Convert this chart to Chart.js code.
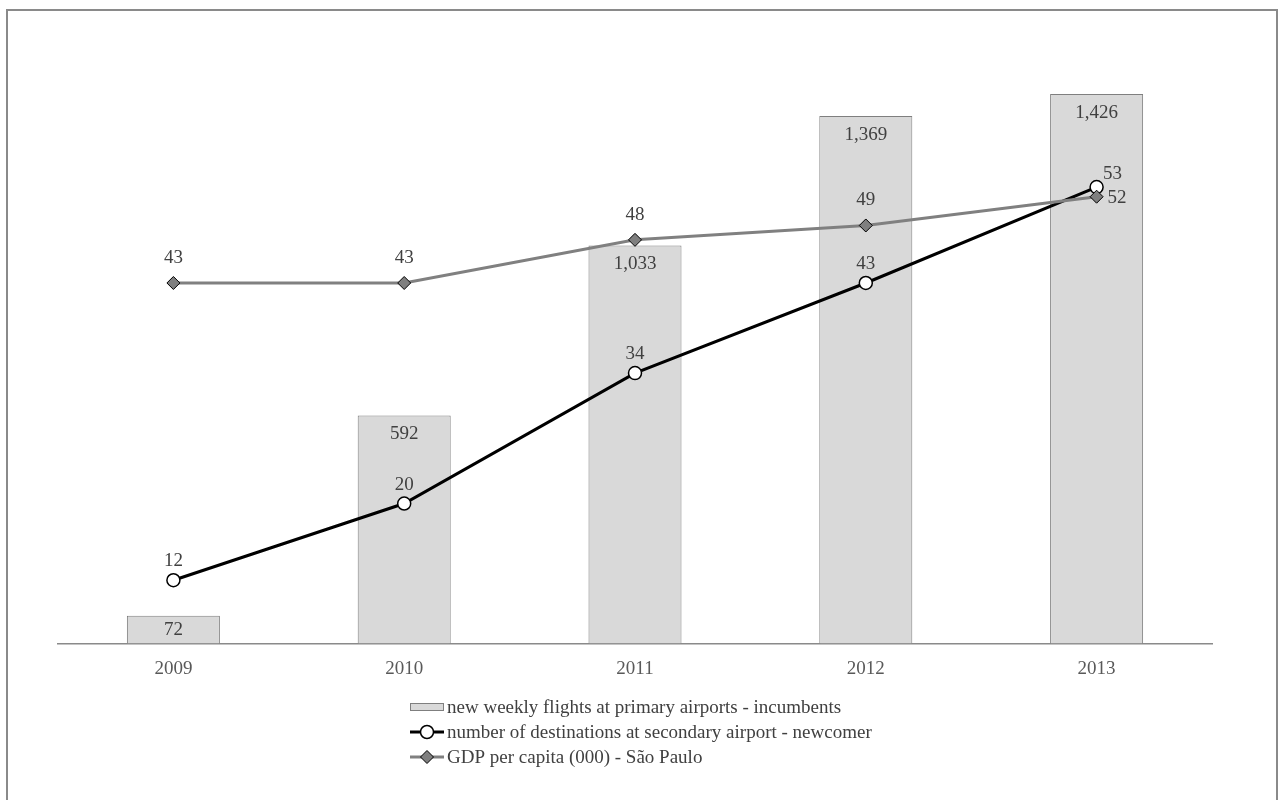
<!DOCTYPE html>
<html>
<head>
<meta charset="utf-8">
<title>Flights, destinations and GDP - São Paulo</title>
<script src="https://cdn.jsdelivr.net/npm/chart.js@4.4.1/dist/chart.umd.min.js"></script>
<style>
    html, body {
        margin: 0;
        padding: 0;
        background: #ffffff;
    }
    .chart-wrap {
        position: relative;
        width: 1279px;
        height: 800px;
    }
</style>
</head>
<body>
<div class="chart-wrap">
    <canvas id="mainChart" width="1279" height="800"></canvas>
</div>
<script>
const years = ['2009', '2010', '2011', '2012', '2013'];
const weeklyFlights = [72, 592, 1033, 1369, 1426];
const destinations = [12, 20, 33.6, 43, 53];
const gdpPerCapita = [43, 43, 47.5, 49, 52];

const seriesNames = [
    'new weekly flights at primary airports - incumbents',
    'number of destinations at secondary airport - newcomer',
    'GDP per capita (000) - São Paulo'
];

const FONT = '"Liberation Serif", "Times New Roman", serif';
const TEXT_COLOR = '#404040';

// outer frame like the spreadsheet chart border
const framePlugin = {
    id: 'frame',
    beforeDraw(chart) {
        const ctx = chart.ctx;
        ctx.save();
        ctx.fillStyle = '#ffffff';
        ctx.fillRect(0, 0, chart.width, chart.height);
        ctx.strokeStyle = '#8a8a8a';
        ctx.lineWidth = 2;
        ctx.strokeRect(7, 10, 1270, 810);
        ctx.restore();
    }
};

// value labels for bars and points
const valueLabels = {
    id: 'valueLabels',
    afterDatasetsDraw(chart) {
        const ctx = chart.ctx;
        ctx.save();
        ctx.font = '19px ' + FONT;
        ctx.fillStyle = TEXT_COLOR;
        ctx.textBaseline = 'middle';

        chart.data.datasets.forEach((ds, di) => {
            const meta = chart.getDatasetMeta(di);
            meta.data.forEach((el, i) => {
                const v = ds.data[i];
                const last = i === ds.data.length - 1;
                if (ds.type === 'bar') {
                    const text = v.toLocaleString('en-US');
                    const y = Math.min(el.y + 19, (el.y + el.base) / 2);
                    ctx.textAlign = 'center';
                    ctx.fillText(text, el.x, y);
                } else if (di === 1) {
                    const text = String(Math.round(v));
                    ctx.textAlign = 'center';
                    if (last) {
                        ctx.fillText(text, el.x + 16, el.y - 13);
                    } else {
                        ctx.fillText(text, el.x, el.y - 19);
                    }
                } else {
                    const text = String(Math.round(v));
                    if (last) {
                        ctx.textAlign = 'left';
                        ctx.fillText(text, el.x + 11, el.y + 1);
                    } else {
                        ctx.textAlign = 'center';
                        ctx.fillText(text, el.x, el.y - 25);
                    }
                }
            });
        });
        ctx.restore();
    }
};

// vertical legend under the axis
const stackedLegend = {
    id: 'stackedLegend',
    afterDraw(chart) {
        const ctx = chart.ctx;
        const x0 = 410;
        const symW = 34;
        const rows = [707, 732, 757];
        ctx.save();
        ctx.font = '19px ' + FONT;
        ctx.textBaseline = 'middle';
        ctx.textAlign = 'left';

        chart.data.datasets.forEach((ds, i) => {
            const y = rows[i];
            if (ds.type === 'bar') {
                ctx.fillStyle = ds.backgroundColor;
                ctx.fillRect(x0, y - 4, symW, 8);
                ctx.strokeStyle = ds.borderColor;
                ctx.lineWidth = 1;
                ctx.strokeRect(x0 + 0.5, y - 3.5, symW - 1, 7);
            } else {
                const cx = x0 + symW / 2;
                ctx.strokeStyle = ds.borderColor;
                ctx.lineWidth = ds.borderWidth;
                ctx.beginPath();
                ctx.moveTo(x0, y);
                ctx.lineTo(x0 + symW, y);
                ctx.stroke();
                ctx.fillStyle = ds.pointBackgroundColor;
                ctx.strokeStyle = ds.pointBorderColor;
                ctx.lineWidth = ds.pointBorderWidth;
                ctx.beginPath();
                if (ds.pointStyle === 'circle') {
                    ctx.arc(cx, y, 6.5, 0, Math.PI * 2);
                } else {
                    ctx.moveTo(cx - 6.5, y);
                    ctx.lineTo(cx, y - 6.5);
                    ctx.lineTo(cx + 6.5, y);
                    ctx.lineTo(cx, y + 6.5);
                    ctx.closePath();
                }
                ctx.fill();
                ctx.stroke();
            }
            ctx.fillStyle = TEXT_COLOR;
            ctx.fillText(ds.label, x0 + symW + 3, y + 1);
        });
        ctx.restore();
    }
};

const ctx = document.getElementById('mainChart').getContext('2d');

new Chart(ctx, {
    data: {
        labels: years,
        datasets: [
            {
                type: 'bar',
                label: seriesNames[0],
                data: weeklyFlights,
                yAxisID: 'y',
                backgroundColor: '#d9d9d9',
                borderColor: '#7f7f7f',
                borderWidth: 1,
                barPercentage: 0.403,
                categoryPercentage: 1,
                order: 2
            },
            {
                type: 'line',
                label: seriesNames[1],
                data: destinations,
                yAxisID: 'y1',
                borderColor: '#000000',
                borderWidth: 3,
                tension: 0,
                pointStyle: 'circle',
                pointRadius: 6.5,
                pointBackgroundColor: '#ffffff',
                pointBorderColor: '#000000',
                pointBorderWidth: 1.5,
                order: 1
            },
            {
                type: 'line',
                label: seriesNames[2],
                data: gdpPerCapita,
                yAxisID: 'y1',
                borderColor: '#808080',
                borderWidth: 3,
                tension: 0,
                pointStyle: 'rectRot',
                pointRadius: 6.5,
                pointBackgroundColor: '#7f7f7f',
                pointBorderColor: '#000000',
                pointBorderWidth: 1,
                order: 0
            }
        ]
    },
    options: {
        responsive: false,
        animation: false,
        layout: {
            padding: {
                left: 58,
                right: 67,
                top: 27,
                bottom: 0
            }
        },
        plugins: {
            legend: { display: false },
            tooltip: { enabled: false }
        },
        scales: {
            x: {
                grid: {
                    display: false,
                    drawTicks: false
                },
                border: {
                    display: true,
                    color: '#8a8a8a',
                    width: 1.5
                },
                ticks: {
                    color: '#595959',
                    padding: 14,
                    font: {
                        family: FONT,
                        size: 19
                    }
                },
                afterFit(scale) {
                    scale.height = 156.5;
                }
            },
            y: {
                display: false,
                min: 0,
                max: 1600
            },
            y1: {
                display: false,
                min: 5.4,
                max: 69.7
            }
        }
    },
    plugins: [framePlugin, valueLabels, stackedLegend]
});
</script>
</body>
</html>
